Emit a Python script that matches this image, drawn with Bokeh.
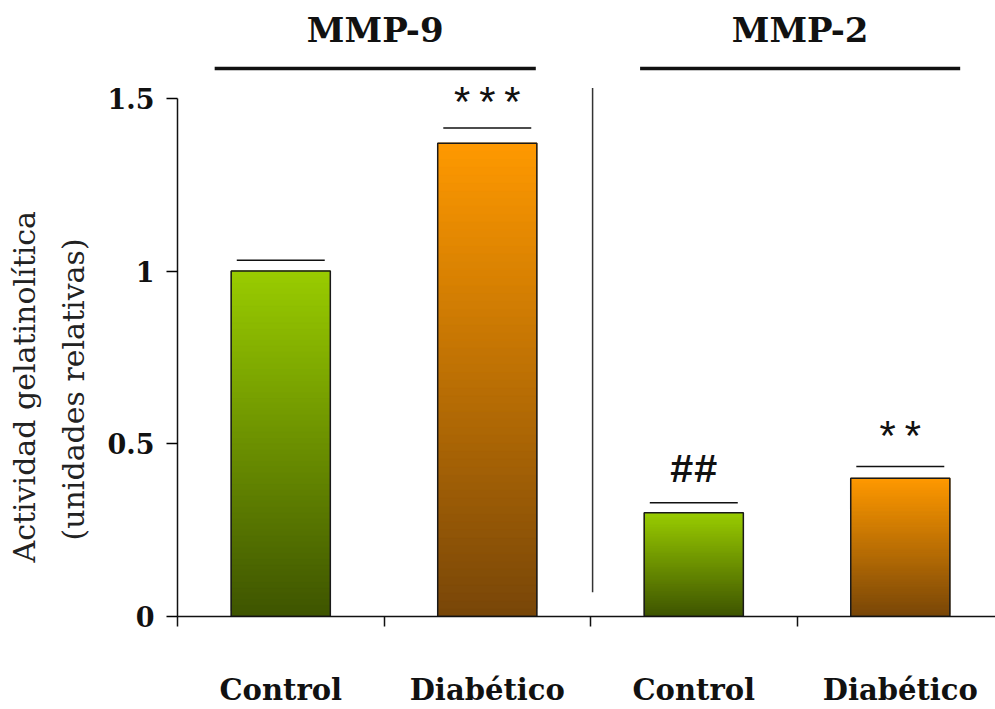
from bokeh.plotting import figure
from bokeh.models import ColumnDataSource, FixedTicker, Range1d, Title
from bokeh.core.properties import value
from bokeh.embed import file_html
from bokeh.resources import INLINE

# --- data -------------------------------------------------------------
categories = ["Control", "Diabético", "Control", "Diabético"]
groups = ["MMP-9", "MMP-2"]
activity = [1.00, 1.37, 0.30, 0.40]          # relative gelatinolytic activity
errors = [0.031, 0.044, 0.029, 0.034]        # upper error (SEM)
markers = ["", "***", "##", "**"]            # significance marks
y_ticks = [0, 0.5, 1, 1.5]
y_tick_labels = ["0", "0.5", "1", "1.5"]
y_title = ["Actividad gelatinolítica", "(unidades relativas)"]

# --- styling / layout -------------------------------------------------
GREEN_TOP, GREEN_BOT = (153, 204, 0), (62, 84, 0)
ORANGE_TOP, ORANGE_BOT = (255, 153, 0), (120, 70, 8)
bar_colors = [(GREEN_BOT, GREEN_TOP), (ORANGE_BOT, ORANGE_TOP),
              (GREEN_BOT, GREEN_TOP), (ORANGE_BOT, ORANGE_TOP)]
BAR_W = 0.48
CAP_HALF = 0.213
N_SLICES = 60

p = figure(width=995, height=709, output_backend="svg", toolbar_location=None,
           x_range=Range1d(0, 3.961), y_range=Range1d(0, 1.783),
           min_border_left=177, min_border_right=0, min_border_top=0,
           min_border_bottom=85)
p.outline_line_color = None
p.grid.visible = False
p.background_fill_color = "white"
p.border_fill_color = "white"


def lerp(c0, c1, t):
    return "#%02x%02x%02x" % tuple(int(round(a + (b - a) * t)) for a, b in zip(c0, c1))


# gradient bars built from overlapping horizontal slices of each bar's value
left, right, bottom, top, color = [], [], [], [], []
for i, (v, (cb, ct)) in enumerate(zip(activity, bar_colors)):
    xc = i + 0.5
    for k in range(N_SLICES):
        left.append(xc - BAR_W / 2)
        right.append(xc + BAR_W / 2)
        bottom.append(v * k / N_SLICES)
        top.append(min(v, v * (k + 2) / N_SLICES))
        color.append(lerp(cb, ct, (k + 0.5) / N_SLICES))
p.quad(left="left", right="right", bottom="bottom", top="top", fill_color="color",
       line_color="color", line_width=0.6,
       source=ColumnDataSource(dict(left=left, right=right, bottom=bottom, top=top, color=color)))

xs = [i + 0.5 for i in range(len(activity))]
p.vbar(x=xs, top=activity, bottom=0, width=BAR_W, fill_color=None,
       line_color="#1a1a1a", line_width=1.5)

# upper error caps
cap_y = [v + e for v, e in zip(activity, errors)]
p.segment(x0=[x - CAP_HALF for x in xs], x1=[x + CAP_HALF for x in xs],
          y0=cap_y, y1=cap_y, line_color="#111111", line_width=1.5)

# significance marks
mark_off = [0.0, 0.06, 0.09, 0.075]
for x, y, m, off in zip(xs, cap_y, markers, mark_off):
    if not m:
        continue
    bold = m.startswith("#")
    p.text(x=[x], y=[y + off], text=[m], text_align="center", text_baseline="middle",
           text_font=value("Liberation Mono"),
           text_font_size="40px" if bold else "42px",
           text_font_style="bold" if bold else "normal", text_color="#111111")

# group headers and bars over each pair
group_span = [(0.18, 1.735), (2.24, 3.79)]
for name, (g0, g1) in zip(groups, group_span):
    p.segment(x0=[g0], x1=[g1], y0=[1.586], y1=[1.586], line_color="#111111", line_width=3.5)
    p.text(x=[(g0 + g1) / 2], y=[1.697], text=[name], text_align="center",
           text_baseline="middle", text_font=value("DejaVu Serif"),
           text_font_size="34px", text_font_style="bold", text_color="#111111")

# vertical separator between the two enzymes
p.segment(x0=[2.01], x1=[2.01], y0=[0.07], y1=[1.53], line_color="#333333", line_width=1.5)

# --- axes -------------------------------------------------------------
yax = p.yaxis[0]
yax.ticker = FixedTicker(ticks=y_ticks)
yax.major_label_overrides = {t: s for t, s in zip(y_ticks, y_tick_labels)}
yax.bounds = (0, 1.5)
yax.axis_line_width = 1.5
yax.axis_line_color = "#111111"
yax.major_tick_out = 11
yax.major_tick_in = 0
yax.major_tick_line_width = 1.5
yax.minor_tick_line_color = None
yax.major_label_standoff = 12
yax.major_label_text_font = "DejaVu Serif"
yax.major_label_text_font_style = "bold"
yax.major_label_text_font_size = "27px"
yax.major_label_text_color = "#111111"

# two-line y title, stacked outward from the axis
for txt, offset, standoff in [(y_title[1], 76, 28), (y_title[0], 54, -5)]:
    p.add_layout(Title(text=txt, align="left", offset=offset, standoff=standoff,
                       text_font="DejaVu Serif", text_font_style="normal",
                       text_font_size="30px", text_color="#222222"), "left")

xax = p.xaxis[0]
xax.ticker = FixedTicker(ticks=xs, minor_ticks=[0, 1, 2, 3, 4])
xax.major_label_overrides = {x: c for x, c in zip(xs, categories)}
xax.axis_line_width = 1.5
xax.axis_line_color = "#111111"
xax.major_tick_line_color = None
xax.major_tick_out = 0
xax.major_tick_in = 0
xax.minor_tick_out = 10
xax.minor_tick_in = 0
xax.minor_tick_line_width = 1.5
xax.minor_tick_line_color = "#111111"
xax.major_label_standoff = 46
xax.major_label_text_font = "DejaVu Serif"
xax.major_label_text_font_style = "bold"
xax.major_label_text_font_size = "29px"
xax.major_label_text_color = "#111111"

open("out.html", "w").write(file_html(p, INLINE))
